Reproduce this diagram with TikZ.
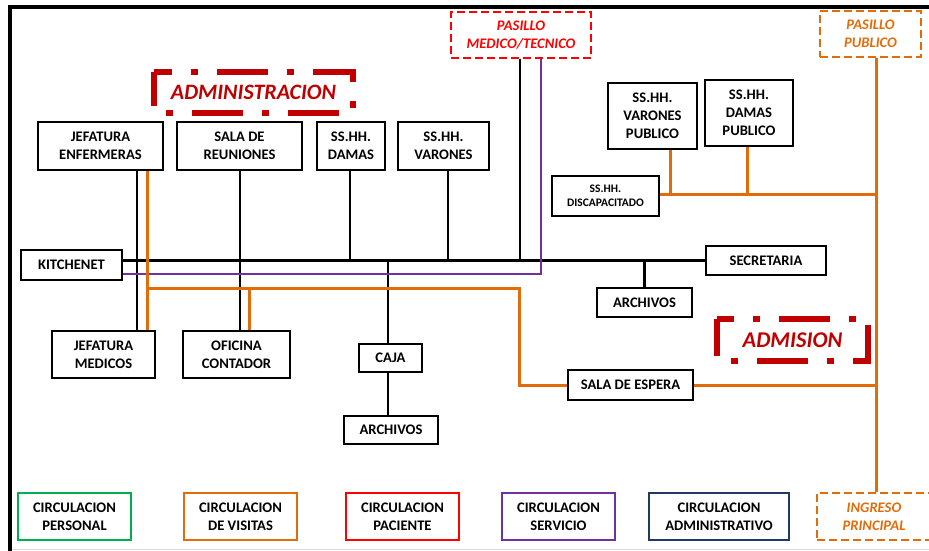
\documentclass[tikz,border=0pt]{standalone}
\usepackage{fontspec}
\setmainfont{Carlito}
\definecolor{corange}{HTML}{E36C0A}
\definecolor{cred}{HTML}{FF0000}
\definecolor{cdred}{HTML}{C00000}
\definecolor{cpurple}{HTML}{7030A0}
\definecolor{cnavy}{HTML}{203864}
\definecolor{cgreen}{HTML}{00B050}
\begin{document}
\begin{tikzpicture}[x=1pt,y=-1pt,
  box/.style={draw=black, line width=2.4pt, fill=white, align=center, inner sep=0pt,
    font=\fontsize{14.6}{18}\selectfont\bfseries},
  smallbox/.style={box, font=\fontsize{11.5}{14.5}\selectfont\bfseries},
  dashbox/.style={box, line width=2.2pt, dash pattern=on 8pt off 4pt, font=\fontsize{14.6}{18}\selectfont\bfseries\itshape},
  legbox/.style={box, line width=2.4pt},
  admframe/.style={line width=6pt, draw=cdred, dash pattern=on 51pt off 19pt on 7pt off 19pt, dash phase=33pt},
  bline/.style={draw=black, line width=2.3pt},
  oline/.style={draw=corange, line width=3pt},
  pline/.style={draw=cpurple, line width=2.3pt}]
\useasboundingbox (0,0) rectangle (929,551);
\fill[white] (0,0) rectangle (929,551);
% frame
\draw[line width=4.5pt] (10,560) -- (10,7) -- (940,7);
\draw[gray!30, line width=1pt] (12,549.5) -- (940,549.5);

% nodes
\node[box, minimum width=125pt, minimum height=48pt] (jenf) at (100.5,146) {JEFATURA\\ENFERMERAS};
\node[box, minimum width=125pt, minimum height=48pt] (reun) at (239.5,146) {SALA DE\\REUNIONES};
\node[box, minimum width=68pt, minimum height=48pt] (damas) at (351,146) {SS.HH.\\DAMAS};
\node[box, minimum width=91pt, minimum height=48pt] (varon) at (443.5,146) {SS.HH.\\VARONES};
\node[box, minimum width=89pt, minimum height=66pt] (vpub) at (652.5,116) {SS.HH.\\VARONES\\PUBLICO};
\node[box, minimum width=88pt, minimum height=66pt] (dpub) at (749,113) {SS.HH.\\DAMAS\\PUBLICO};
\node[smallbox, minimum width=107pt, minimum height=40pt] (disc) at (605.5,196) {SS.HH.\\DISCAPACITADO};
\node[box, minimum width=101pt, minimum height=30pt] (kitch) at (71.5,265) {KITCHENET};
\node[box, minimum width=120pt, minimum height=29pt] (secr) at (766,260.5) {SECRETARIA};
\node[box, minimum width=95pt, minimum height=29pt] (archa) at (644.5,302.5) {ARCHIVOS};
\node[box, minimum width=103pt, minimum height=47pt] (jmed) at (103.5,354.5) {JEFATURA\\MEDICOS};
\node[box, minimum width=107pt, minimum height=47pt] (ofic) at (236.5,354.5) {OFICINA\\CONTADOR};
\node[box, minimum width=63pt, minimum height=28pt] (caja) at (390.5,358) {CAJA};
\node[box, minimum width=94pt, minimum height=28pt] (archb) at (391,430) {ARCHIVOS};
\node[box, minimum width=125pt, minimum height=30pt] (espera) at (630.5,385) {SALA DE ESPERA};
\node[dashbox, draw=cred, text=cred, minimum width=140pt, minimum height=46pt] (pmt) at (521,35) {PASILLO\\MEDICO/TECNICO};
\node[dashbox, draw=corange, text=corange, minimum width=101pt, minimum height=46pt] (ppub) at (870.5,34) {PASILLO\\PUBLICO};
\node[dashbox, draw=corange, text=corange, minimum width=114pt, minimum height=47pt] (ing) at (874,516.5) {INGRESO\\PRINCIPAL};

% legend
\node[legbox, draw=cgreen, minimum width=113pt, minimum height=47pt] (lper) at (74.5,516.5) {CIRCULACION\\PERSONAL};
\node[legbox, draw=corange, minimum width=113pt, minimum height=47pt] (lvis) at (240.5,516.5) {CIRCULACION\\DE VISITAS};
\node[legbox, draw=cred, minimum width=113pt, minimum height=47pt] (lpac) at (402.5,516.5) {CIRCULACION\\PACIENTE};
\node[legbox, draw=cpurple, minimum width=113pt, minimum height=47pt] (lser) at (558.5,516.5) {CIRCULACION\\SERVICIO};
\node[legbox, draw=cnavy, minimum width=140pt, minimum height=47pt] (ladm) at (719,516.5) {CIRCULACION\\ADMINISTRATIVO};

% zone labels
\node[inner sep=0pt, minimum width=199pt, minimum height=41pt, text=cdred,
  font=\fontsize{22}{24}\selectfont\bfseries\itshape] (adm) at (253.5,92.5) {ADMINISTRACION};
\draw[admframe] (adm.north west) -- (adm.north east) -- (adm.south east) -- (adm.south west) -- cycle;
\node[inner sep=0pt, minimum width=151pt, minimum height=42pt, text=cdred,
  font=\fontsize{22.5}{24}\selectfont\bfseries\itshape] (admis) at (792.5,340) {ADMISION};
\draw[admframe, dash phase=34pt] (admis.north west) -- (admis.north east) -- (admis.south east) -- (admis.south west) -- cycle;

% black connectors
\draw[bline] (kitch.east |- secr.west) -- (secr.west);
\draw[bline] (jenf.south -| 137,0) -- (jmed.north -| 137,0);
\draw[bline] (reun.south -| 240,0) -- (ofic.north -| 240,0);
\draw[bline] (damas.south -| 350,0) -- (secr.west -| 350,0);
\draw[bline] (varon.south -| 448,0) -- (secr.west -| 448,0);
\draw[bline] (pmt.south -| 520,0) -- (secr.west -| 520,0);
\draw[bline] (caja.north -| 388,0) -- (secr.west -| 388,0);
\draw[bline] (caja.south -| 388,0) -- (archb.north -| 388,0);
\draw[bline] (archa.north) -- (archa.north |- secr.west);

% purple connector
\draw[pline] (pmt.south -| 541,0) |- (kitch.east |- 0,274);

% orange connectors
\coordinate (oj) at (147,288);
\coordinate (oh) at (876,194);
\draw[oline] (jenf.south -| 147,0) -- (jmed.north -| 147,0);
\draw[oline] (oj) -| (espera.west -| 519,0) -- (espera.west);
\draw[oline] (ofic.north -| 249,0) -- (oj -| 249,0);
\draw[oline] (ppub.south -| 876,0) -- (ing.north -| 876,0);
\draw[oline] (espera.east) -- (espera.east -| oh);
\draw[oline] (disc.east |- oh) -- (oh);
\draw[oline] (vpub.south -| 670,0) -- (oh -| 670,0);
\draw[oline] (dpub.south -| 747,0) -- (oh -| 747,0);
\end{tikzpicture}
\end{document}
